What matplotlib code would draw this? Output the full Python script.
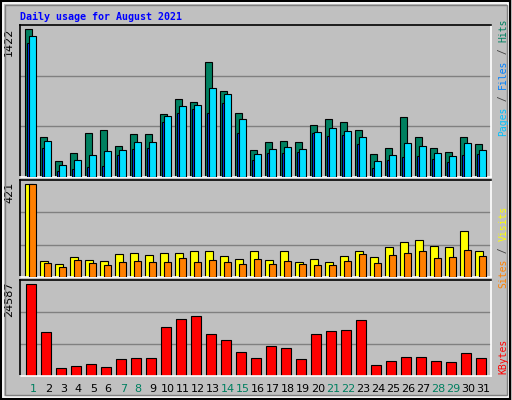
import matplotlib
matplotlib.use("Agg")
import matplotlib.pyplot as plt
from matplotlib.patches import Rectangle

days = list(range(1, 32))
hits = [1422,389,158,235,428,457,302,410,410,611,756,727,1103,825,621,264,341,350,341,505,563,534,457,225,283,582,389,283,245,389,322]
files = [1354,350,119,167,216,254,264,341,341,592,688,698,862,795,563,225,273,293,273,438,476,447,389,158,216,331,302,235,206,331,264]
pages = [1287,283,61,80,100,109,216,273,283,534,621,659,621,708,428,167,235,235,245,428,399,408,322,90,167,196,206,177,148,216,225]
visits = [421,74,61,93,79,74,106,111,102,111,111,120,116,97,84,116,79,116,70,84,70,97,116,93,138,157,170,143,138,211,120]
sites = [421,65,47,79,65,56,70,74,70,70,88,70,79,70,61,84,61,74,61,56,56,74,106,65,102,111,116,88,93,125,97]
kbytes = [24587,11700,2242,2780,3318,2511,4664,4933,4933,13276,15160,15967,11392,9777,6548,4933,8163,7624,4664,11392,12200,12469,14891,3050,4126,5202,5202,4126,3857,6279,4933]
weekends = [1,7,8,14,15,21,22,28,29]

BG = "#C0C0C0"
fig = plt.figure(figsize=(5.12, 4.0), dpi=100)
fig.patch.set_facecolor(BG)
fig.add_artist(Rectangle((0.002, 0.003), 0.995, 0.994, transform=fig.transFigure, fill=False, ec="black", lw=1.5))
fig.add_artist(Rectangle((0.006, 0.008), 0.986, 0.984, transform=fig.transFigure, fill=False, ec="white", lw=1.2))
fig.add_artist(Rectangle((0.010, 0.013), 0.980, 0.974, transform=fig.transFigure, fill=False, ec="#808080", lw=1.0))

xl = (0.147, 31.55)

def setup(ax, ymax, label):
    ax.set_facecolor(BG)
    ax.set_xlim(*xl)
    ax.set_ylim(0, ymax)
    for s in ("top", "left"):
        ax.spines[s].set_color("black")
    for s in ("bottom", "right"):
        ax.spines[s].set_color("white")
    for sp in ax.spines.values():
        sp.set_linewidth(1.2)
    for g in (ymax / 3, 2 * ymax / 3):
        ax.axhline(g, color="#808080", lw=1.0, zorder=0)
    ax.set_xticks([]); ax.set_yticks([])
    ax.text(-0.012, 1.0 - 0.02, label, transform=ax.transAxes, rotation=90,
            ha="right", va="top", fontsize=8, family="DejaVu Sans")

bw = dict(edgecolor="black", linewidth=0.8)

ax1 = fig.add_axes([0.039, 0.5575, 0.92, 0.38])
setup(ax1, 1464, "1422")
ax1.bar([d - 0.5 for d in days], hits, width=0.47, align="edge", color="#008060", **bw, zorder=2)
ax1.bar([d - 0.37 for d in days], pages, width=0.14, align="edge", color="#0040FF", **bw, zorder=3)
ax1.bar([d - 0.23 for d in days], files, width=0.47, align="edge", color="#00E0FF", **bw, zorder=4)

ax2 = fig.add_axes([0.039, 0.3075, 0.92, 0.2425])
setup(ax2, 441, "421")
ax2.bar([d - 0.5 for d in days], visits, width=0.53, align="edge", color="#FFFF00", **bw, zorder=2)
ax2.bar([d - 0.23 for d in days], sites, width=0.47, align="edge", color="#FF8000", **bw, zorder=3)

ax3 = fig.add_axes([0.039, 0.06, 0.92, 0.24])
setup(ax3, 25753, "24587")
ax3.bar([d - 0.43 for d in days], kbytes, width=0.67, align="edge", color="#FF0000", **bw, zorder=2)

for d in days:
    ax3.text(d + 0.03, -0.08, str(d), transform=ax3.get_xaxis_transform(), ha="center", va="top",
             fontsize=8, color="#008060" if d in weekends else "black")

fig.text(0.039, 0.97, "Daily usage for August 2021", color="#0000FF", fontsize=7.2,
         fontweight="bold", family="DejaVu Sans Mono", ha="left", va="top")

fig.canvas.draw()
renderer = fig.canvas.get_renderer()

def vlabel(x, ybottom, parts):
    y = ybottom
    for txt, col in parts:
        t = fig.text(x, y, txt, rotation=90, color=col, fontsize=7, family="DejaVu Sans Mono",
                     ha="center", va="bottom")
        bb = t.get_window_extent(renderer)
        y += bb.height / fig.bbox.height

vlabel(0.983, 0.66, [("Pages", "#00C0FF"), (" / ", "#404040"), ("Files", "#0080FF"), (" / ", "#404040"), ("Hits", "#008060")])
vlabel(0.983, 0.28, [("Sites", "#FF8000"), (" / ", "#404040"), ("Visits", "#FFFF00")])
vlabel(0.983, 0.065, [("KBytes", "#FF0000")])

fig.savefig("out.png", dpi=100, facecolor=BG)
